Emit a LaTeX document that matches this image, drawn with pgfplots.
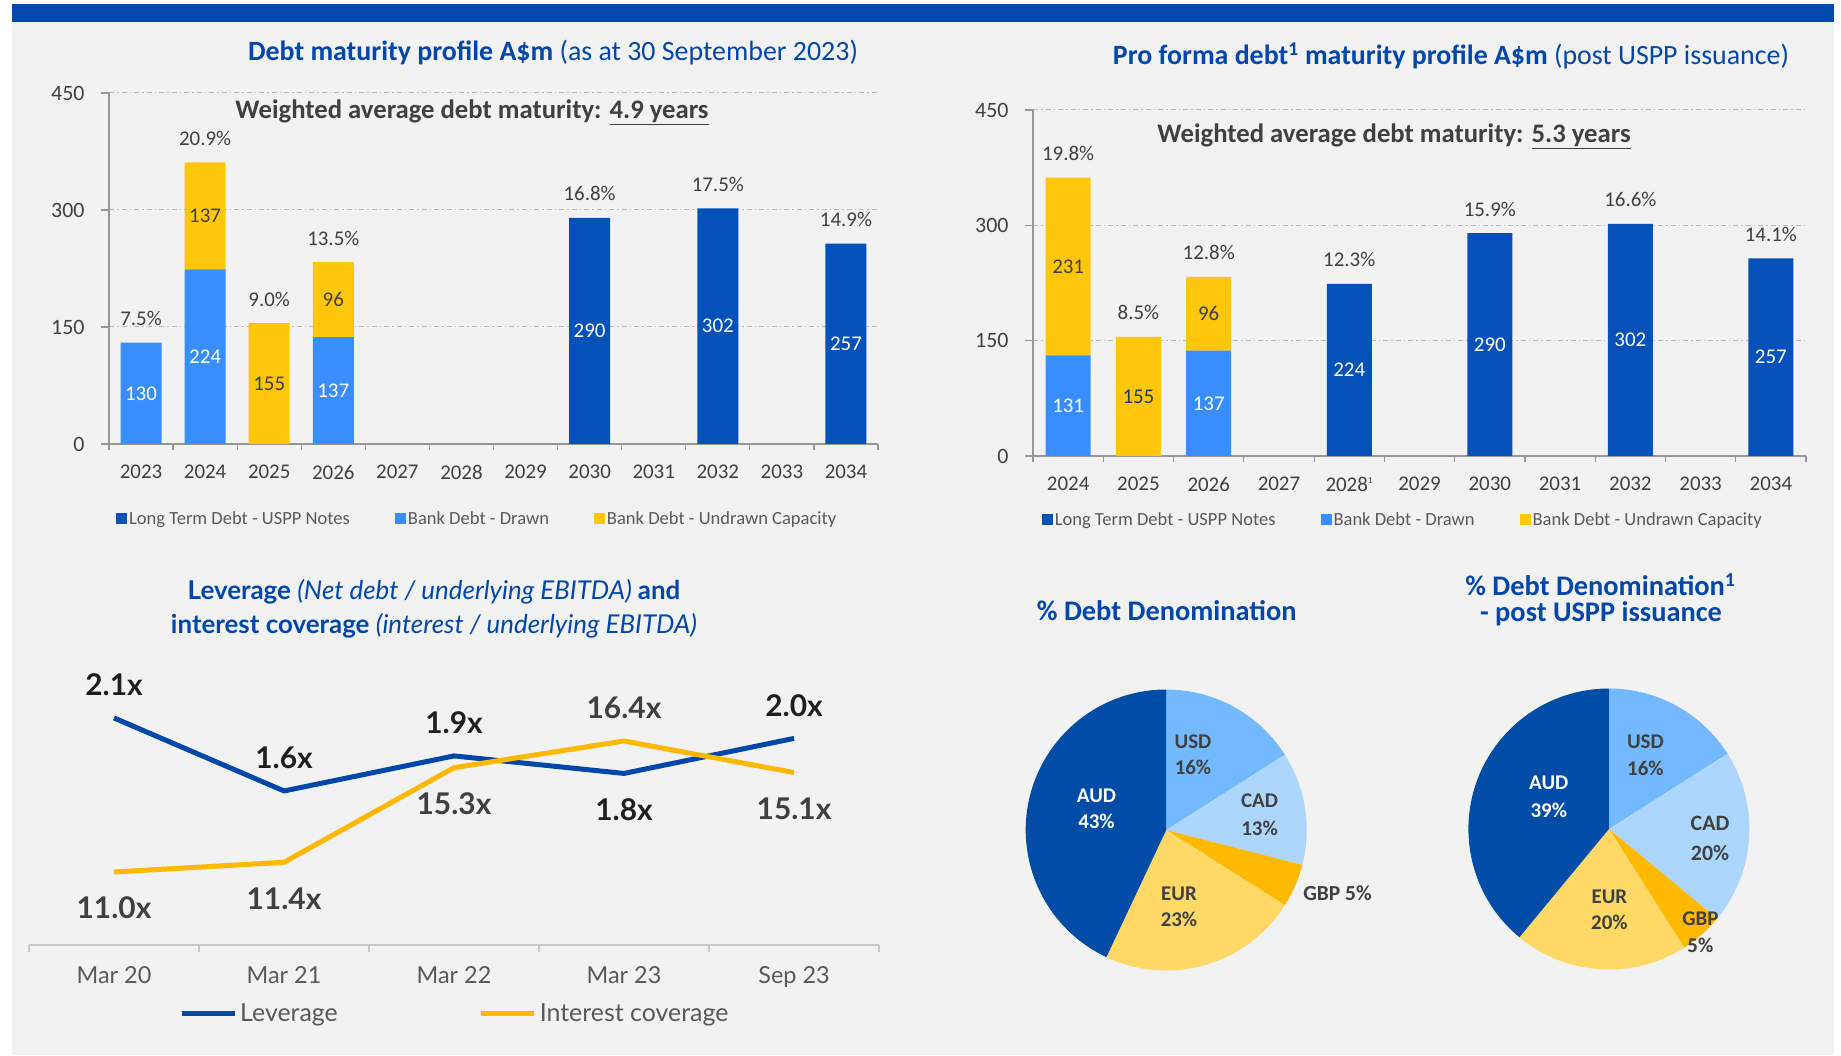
\documentclass[border=0pt]{standalone}
\usepackage{pgfplots}
\pgfplotsset{compat=1.18}
\usepackage{fontspec}
\setmainfont{Carlito}
\newfontfamily\lato{Lato}
\definecolor{band}{RGB}{0,74,173}
\definecolor{bg}{RGB}{242,242,242}
\definecolor{uspp}{RGB}{4,82,185}
\definecolor{drawn}{RGB}{56,141,255}
\definecolor{undrawn}{RGB}{255,198,10}
\definecolor{titleblue}{RGB}{0,71,171}
\definecolor{dgray}{RGB}{64,64,64}
\definecolor{navy}{RGB}{31,56,100}
\definecolor{mgray}{RGB}{89,89,89}
\definecolor{axisgray}{RGB}{150,150,150}
\definecolor{gridgray}{RGB}{185,185,185}
\definecolor{lgray}{RGB}{200,200,200}
\definecolor{levblue}{RGB}{0,71,171}
\definecolor{covyel}{RGB}{255,184,0}
\definecolor{aud}{RGB}{0,77,168}
\definecolor{usd}{RGB}{115,185,255}
\definecolor{cad}{RGB}{173,214,255}
\definecolor{gbp}{RGB}{255,186,0}
\definecolor{eur}{RGB}{255,217,102}
\newcommand\fs[1]{\fontsize{#1}{#1}\selectfont}
\newcommand\fsl[2]{\fontsize{#1}{#2}\selectfont}
\newcommand\slice[3]{\fill[#3] (axis cs:0,0) -- (axis cs:{cos(90-3.6*#1)},{sin(90-3.6*#1)}) arc[start angle={90-3.6*#1}, end angle={90-3.6*#2}, radius=140.5bp] -- cycle;}
\pgfplotsset{
  barchart/.style={scale only axis, anchor=south west,
    ybar stacked, ymin=0, ymax=450,
    axis x line*=bottom, axis y line*=left,
    axis line style={draw=axisgray, line width=1.5bp, -},
    major x tick style={draw=none},
    minor x tick style={draw=axisgray, line width=1.2bp},
    y tick style={draw=axisgray, line width=1.2bp},
    major tick length=8bp, minor tick length=6bp, tick align=outside,
    ytick={0,150,300,450}, yticklabels={0,150,300,450},
    ymajorgrids, grid style={draw=gridgray, line width=1bp, dash pattern=on 5bp off 3bp on 1.5bp off 3bp},
    yticklabel style={font=\fs{22}, text=dgray, xshift=-13bp},
    xticklabel style={font=\fs{21}, text=dgray, yshift=-9.5bp},
    legend image code/.code={\fill[##1] (0bp,-5.5bp) rectangle (11bp,5.5bp);},
    legend style={draw=none, fill=none, inner sep=0pt, text=mgray, font=\fs{18.6},
      legend columns=3, nodes={inner sep=2bp},
      /tikz/every even column/.append style={column sep=43bp}},
    clip=false},
  lbl/.style={scale only axis, anchor=south west, hide axis, clip=false,
    ymin=0, ymax=450, point meta=explicit symbolic, nodes near coords},
  pct/.style={draw=none, nodes near coords style={font=\fs{21}, text=dgray, anchor=center, yshift=24bp}},
  inw/.style={draw=none, nodes near coords style={font=\fs{21}, text=white, anchor=center}},
  ind/.style={draw=none, nodes near coords style={font=\fs{21}, text=dgray, anchor=center}},
}
\begin{document}
\begin{tikzpicture}[x=1bp,y=1bp]
\useasboundingbox (0,0) rectangle (1841,1055);
\fill[white] (0,0) rectangle (1841,1055);
\fill[bg] (12,0) rectangle (1834,1033);
\fill[band] (12,1033) rectangle (1834,1051);

% ---------------- top-left bar chart
\begin{axis}[barchart, at={(109bp,611bp)}, width=769bp, height=351bp, bar width=41bp,
  xmin=-0.5, xmax=11.5, xtick={0,...,11},
  xticklabels={2023,2024,2025,2026,2027,2028,2029,2030,2031,2032,2033,2034},
  minor xtick={-0.5,0.5,...,11.5},
  legend style={at={(0.0091,-0.2137)}, anchor=west}]
\addplot[fill=uspp, draw=none] coordinates {(0,0)(1,0)(2,0)(3,0)(4,0)(5,0)(6,0)(7,290)(8,0)(9,302)(10,0)(11,257)};
\addplot[fill=drawn, draw=none] coordinates {(0,130)(1,224)(2,0)(3,137)(4,0)(5,0)(6,0)(7,0)(8,0)(9,0)(10,0)(11,0)};
\addplot[fill=undrawn, draw=none] coordinates {(0,0)(1,137)(2,155)(3,96)(4,0)(5,0)(6,0)(7,0)(8,0)(9,0)(10,0)(11,0)};
\legend{Long Term Debt - USPP Notes, Bank Debt - Drawn, Bank Debt - Undrawn Capacity}
\end{axis}
\begin{axis}[lbl, at={(109bp,611bp)}, width=769bp, height=351bp, xmin=-0.5, xmax=11.5]
\addplot[pct] coordinates {(0,130)[7.5\%] (1,361)[20.9\%] (2,155)[9.0\%] (3,233)[13.5\%] (7,290)[16.8\%] (9,302)[17.5\%] (11,257)[14.9\%]};
\addplot[inw] coordinates {(0,65)[130] (1,112)[224] (3,68.5)[137] (7,145)[290] (9,151)[302] (11,128.5)[257]};
\addplot[ind] coordinates {(1,292.5)[137] (2,77.5)[155] (3,185.5)[96]};
\end{axis}
\node[font=\fs{28}, text=titleblue] at (553,1002) {\bfseries Debt maturity profile A\$m\mdseries\ (as at 30 September 2023)};
\node[font=\bfseries\fs{26.8}, text=dgray] at (472,943) {Weighted average debt maturity: \underline{4.9 years}};

% ---------------- top-right bar chart
\begin{axis}[barchart, at={(1033bp,599bp)}, width=773bp, height=346bp, bar width=45bp,
  xmin=-0.5, xmax=10.5, xtick={0,...,10},
  xticklabels={2024,2025,2026,2027,2028\textsuperscript{\fs{9}1},2029,2030,2031,2032,2033,2034},
  minor xtick={-0.5,0.5,...,10.5},
  legend style={at={(0.0111,-0.185)}, anchor=west}]
\addplot[fill=uspp, draw=none] coordinates {(0,0)(1,0)(2,0)(3,0)(4,224)(5,0)(6,290)(7,0)(8,302)(9,0)(10,257)};
\addplot[fill=drawn, draw=none] coordinates {(0,131)(1,0)(2,137)(3,0)(4,0)(5,0)(6,0)(7,0)(8,0)(9,0)(10,0)};
\addplot[fill=undrawn, draw=none] coordinates {(0,231)(1,155)(2,96)(3,0)(4,0)(5,0)(6,0)(7,0)(8,0)(9,0)(10,0)};
\legend{Long Term Debt - USPP Notes, Bank Debt - Drawn, Bank Debt - Undrawn Capacity}
\end{axis}
\begin{axis}[lbl, at={(1033bp,599bp)}, width=773bp, height=346bp, xmin=-0.5, xmax=10.5]
\addplot[pct] coordinates {(0,362)[19.8\%] (1,155)[8.5\%] (2,233)[12.8\%] (4,224)[12.3\%] (6,290)[15.9\%] (8,302)[16.6\%] (10,257)[14.1\%]};
\addplot[inw] coordinates {(0,65.5)[131] (2,68.5)[137] (4,112)[224] (6,145)[290] (8,151)[302] (10,128.5)[257]};
\addplot[ind] coordinates {(0,246.5)[231] (2,185)[96]};
\addplot[draw=none, nodes near coords style={font=\fs{21}, text=navy, anchor=center}] coordinates {(1,77.5)[155]};
\end{axis}
\node[font=\fs{28}, text=titleblue] at (1451,999) {\bfseries Pro forma debt\textsuperscript{1} maturity profile A\$m\mdseries\ (post USPP issuance)};
\node[font=\bfseries\fs{26.8}, text=dgray] at (1394,919) {Weighted average debt maturity: \underline{5.3 years}};

% ---------------- bottom-left line chart
\begin{axis}[scale only axis, anchor=south west, at={(29bp,110bp)}, width=850bp, height=245bp,
  xmin=-0.5, xmax=4.5, ymin=0.585, ymax=2.263,
  axis x line*=bottom, axis y line=none, ytick=\empty,
  axis line style={draw=lgray, line width=2bp, -},
  xtick={0,...,4}, xticklabels={Mar 20,Mar 21,Mar 22,Mar 23,Sep 23},
  major x tick style={draw=none}, minor xtick={-0.5,0.5,...,4.5},
  minor x tick style={draw=lgray, line width=2bp},
  major tick length=8bp, minor tick length=7bp, tick align=outside,
  xticklabel style={font=\lato\fs{23.5}, text=mgray, yshift=-10bp},
  clip=false, point meta=explicit symbolic,
  legend image code/.code={\draw[#1] (0bp,0bp) -- (53bp,0bp);},
  legend style={at={(0.1765,-0.2776)}, anchor=west, draw=none, fill=none, inner sep=0pt,
    text=mgray, font=\lato\fs{25}, legend columns=2, nodes={inner sep=3bp},
    /tikz/every even column/.append style={column sep=138bp}}]
\addplot[levblue, line width=5bp, line join=round] coordinates {(0,2.14)(1,1.64)(2,1.88)(3,1.76)(4,2.00)};
\addlegendentry{Leverage}
\addlegendimage{covyel, line width=5bp}
\addlegendentry{Interest coverage}
\addplot[draw=none, forget plot, nodes near coords, nodes near coords style={font=\lato\bfseries\fs{30}, text=black!88, anchor=center, yshift=33bp}]
  coordinates {(0,2.14)[2.1x] (1,1.64)[1.6x] (2,1.88)[1.9x] (4,2.00)[2.0x]};
\addplot[draw=none, forget plot, nodes near coords, nodes near coords style={font=\lato\bfseries\fs{30}, text=black!88, anchor=center, yshift=-36bp}]
  coordinates {(3,1.76)[1.8x]};
\end{axis}
\begin{axis}[scale only axis, anchor=south west, at={(29bp,110bp)}, width=850bp, height=245bp,
  xmin=-0.5, xmax=4.5, ymin=7.991, ymax=18.090, hide axis, clip=false, point meta=explicit symbolic]
\addplot[covyel, line width=5bp, line join=round] coordinates {(0,11.0)(1,11.4)(2,15.3)(3,16.4)(4,15.1)};
\addplot[draw=none, nodes near coords, nodes near coords style={font=\lato\bfseries\fs{30}, text=dgray, anchor=center, yshift=33bp}]
  coordinates {(3,16.4)[16.4x]};
\addplot[draw=none, nodes near coords, nodes near coords style={font=\lato\bfseries\fs{30}, text=dgray, anchor=center, yshift=-36bp}]
  coordinates {(0,11.0)[11.0x] (1,11.4)[11.4x] (2,15.3)[15.3x] (4,15.1)[15.1x]};
\end{axis}
\node[font=\lato\fs{26}, text=titleblue] at (434,463) {\bfseries Leverage \mdseries\itshape(Net debt / underlying EBITDA) \upshape\bfseries and};
\node[font=\lato\fs{26}, text=titleblue] at (434,429) {\bfseries interest coverage \mdseries\itshape(interest / underlying EBITDA)};

% ---------------- pies
\begin{axis}[scale only axis, anchor=south west, at={(1025.7bp,84.5bp)}, width=281bp, height=281bp,
  xmin=-1, xmax=1, ymin=-1, ymax=1, hide axis, clip=false]
\slice{0}{16}{usd}
\slice{16}{29}{cad}
\slice{29}{34}{gbp}
\slice{34}{57}{eur}
\slice{57}{100}{aud}
\end{axis}
\begin{axis}[scale only axis, anchor=south west, at={(1468.4bp,85.5bp)}, width=281bp, height=281bp,
  xmin=-1, xmax=1, ymin=-1, ymax=1, hide axis, clip=false]
\slice{0}{16}{usd}
\slice{16}{36}{cad}
\slice{36}{41}{gbp}
\slice{41}{61}{eur}
\slice{61}{100}{aud}
\end{axis}
\begin{scope}[every node/.style={font=\bfseries\fsl{21}{26}, text=dgray, align=center, inner sep=0pt}]
\node at (1193,300) {USD\\16\%};
\node[font=\bfseries\fsl{21}{28}] at (1259.5,240) {CAD\\13\%};
\node[font=\bfseries\fsl{21.5}{26}] at (1337.5,162) {GBP 5\%};
\node at (1179,148) {EUR\\23\%};
\node[text=white] at (1096.5,246) {AUD\\43\%};
\node[font=\bfseries\fsl{21}{27}] at (1645.4,300) {USD\\16\%};
\node[font=\bfseries\fsl{22}{30}] at (1710,217) {CAD\\20\%};
\node[font=\bfseries\fsl{21}{27}] at (1700.4,123) {GBP\\5\%};
\node at (1609.4,145) {EUR\\20\%};
\node[font=\bfseries\fsl{21}{28}, text=white] at (1548.8,258) {AUD\\39\%};
\end{scope}
\node[font=\bfseries\fs{28.5}, text=titleblue] at (1166.7,444) {\% Debt Denomination};
\node[font=\bfseries\fs{28.5}, text=titleblue] at (1600.4,470) {\% Debt Denomination\textsuperscript{1}};
\node[font=\bfseries\fs{28.5}, text=titleblue] at (1601,441) {- post USPP issuance};
\end{tikzpicture}
\end{document}
